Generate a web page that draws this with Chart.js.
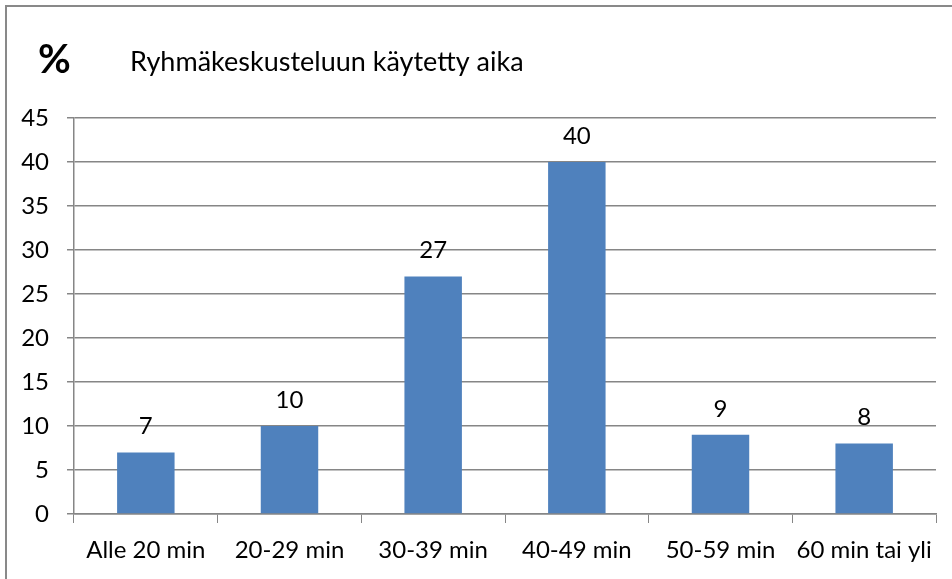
<!DOCTYPE html>
<html>
<head>
<meta charset="utf-8">
<script src="https://cdn.jsdelivr.net/npm/chart.js@4/dist/chart.umd.min.js"></script>
<style>
  html, body { margin: 0; padding: 0; background: #ffffff; }
  #wrap { position: relative; width: 952px; height: 579px; overflow: hidden; }
  #frame { position: absolute; left: 5px; top: 5px; width: 1000px; height: 700px; border: 2px solid #898989; box-sizing: border-box; }
  #c { position: absolute; left: 0; top: 0; }
</style>
</head>
<body>
<div id="wrap">
  <div id="frame"></div>
  <canvas id="c" width="952" height="579"></canvas>
</div>
<script>
const categories = ["Alle 20 min", "20-29 min", "30-39 min", "40-49 min", "50-59 min", "60 min tai yli"];
const values = [7, 10, 27, 40, 9, 8];
const yTicks = [0, 5, 10, 15, 20, 25, 30, 35, 40, 45];
const titleSymbol = "%";
const titleText = "Ryhmäkeskusteluun käytetty aika";

const FONT = "Lato, 'Open Sans', sans-serif";

const labelPlugin = {
  id: 'labels',
  afterDatasetsDraw(chart) {
    const ctx = chart.ctx;
    const meta = chart.getDatasetMeta(0);
    ctx.save();
    ctx.fillStyle = '#000';
    ctx.font = '24px ' + FONT;
    ctx.textAlign = 'center';
    ctx.textBaseline = 'middle';
    meta.data.forEach((bar, i) => {
      ctx.fillText(String(values[i]), bar.x, bar.y - 26);
    });
    ctx.restore();
  },
  afterDraw(chart) {
    const ctx = chart.ctx;
    ctx.save();
    ctx.fillStyle = '#000';
    ctx.textBaseline = 'middle';
    ctx.textAlign = 'left';
    ctx.font = 'bold 40px ' + FONT;
    ctx.fillText(titleSymbol, 38, 60);
    ctx.font = '27px ' + FONT;
    ctx.fillText(titleText, 130, 62);
    ctx.restore();
  }
};

new Chart(document.getElementById('c'), {
  type: 'bar',
  data: {
    labels: categories,
    datasets: [{
      data: values,
      backgroundColor: '#4F81BD',
      borderWidth: 0,
      barPercentage: 0.4,
      categoryPercentage: 1.0
    }]
  },
  options: {
    responsive: false,
    animation: false,
    events: [],
    layout: { padding: { top: 118, right: 16, left: 0, bottom: 0 } },
    plugins: { legend: { display: false }, tooltip: { enabled: false }, title: { display: false } },
    scales: {
      x: {
        afterFit(s) { s.height = 65; },
        grid: { display: true, drawOnChartArea: false, drawTicks: true, tickLength: 9, color: '#868686', offset: true },
        border: { display: true, color: '#868686', width: 1.5 },
        ticks: { color: '#000', font: { family: FONT, size: 24 }, padding: 13, maxRotation: 0, autoSkip: false }
      },
      y: {
        min: 0, max: 45,
        afterFit(s) { s.width = 74; },
        afterBuildTicks(s) { s.ticks = yTicks.map(v => ({ value: v })); },
        grid: { color: '#868686', lineWidth: 1.5, tickLength: 7, drawTicks: true },
        border: { display: true, color: '#868686', width: 1.5 },
        ticks: { color: '#000', font: { family: FONT, size: 24 }, padding: 18 }
      }
    }
  },
  plugins: [labelPlugin]
});
</script>
</body>
</html>
